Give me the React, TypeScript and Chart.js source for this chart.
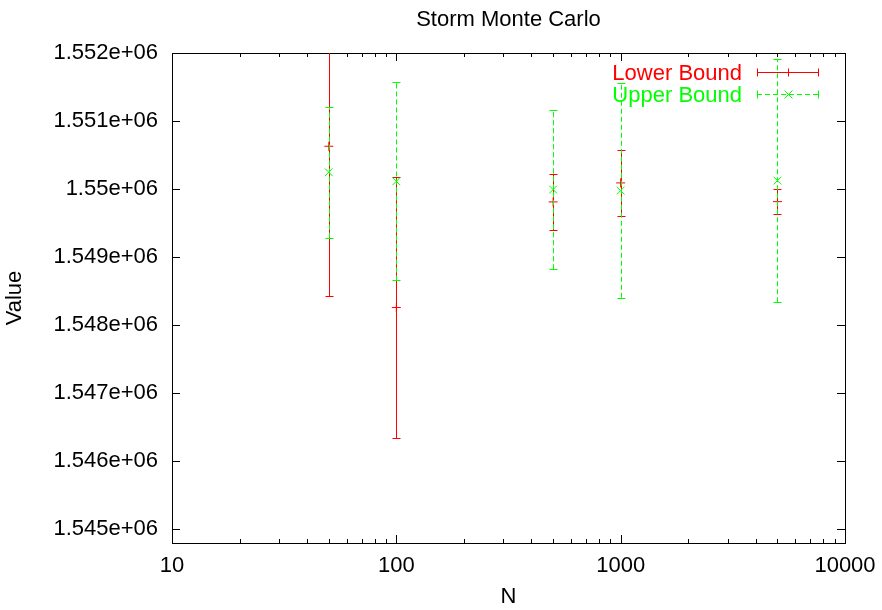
import React, { useEffect, useRef } from 'react';
import { Chart, registerables } from 'chart.js';

Chart.register(...registerables);

// ---- data ----
const N = [50, 100, 500, 1000, 5000];
const lowerValue = [1550630, 1548260, 1549812, 1550091, 1549816];
const lowerError = [2204, 1917, 415, 483, 188];
const upperValue = [1550247, 1550115, 1549993, 1549978, 1550125];
const upperError = [960, 1457, 1170, 1575, 1787];

const xTicks = [10, 100, 1000, 10000];
const xTickLabels = ['10', '100', '1000', '10000'];
const yTicks = [1545000, 1546000, 1547000, 1548000, 1549000, 1550000, 1551000, 1552000];
const yTickLabels = ['1.545e+06', '1.546e+06', '1.547e+06', '1.548e+06', '1.549e+06', '1.55e+06', '1.551e+06', '1.552e+06'];

const TITLE = 'Storm Monte Carlo';
const X_TITLE = 'N';
const Y_TITLE = 'Value';

const X_MIN = 10;
const X_MAX = 10000;
const Y_MIN = 1544800;
const Y_MAX = 1552000;

const RED = '#ff0000';
const GREEN = '#00ff00';
const FONT_FAMILY = '"Liberation Sans", Arial, Helvetica, sans-serif';
const FONT_SIZE = 22;
const FONT = { family: FONT_FAMILY, size: FONT_SIZE, weight: 'normal' as const };

// minor ticks for log axis (2..9 per decade)
const xMinorTicks: number[] = [];
for (let d = X_MIN; d < X_MAX; d *= 10) {
  for (let k = 2; k <= 9; k++) xMinorTicks.push(d * k);
}

const errorBarPlugin = {
  id: 'errorBars',
  beforeDatasetDraw(chart: any, args: any) {
    const ds = chart.data.datasets[args.index];
    const errs: number[] = ds.errors;
    if (!errs) return;
    const { ctx, chartArea, scales } = chart;
    const dash: number[] = ds.errorDash || [];
    ctx.save();
    ctx.beginPath();
    ctx.rect(chartArea.left, chartArea.top, chartArea.right - chartArea.left, chartArea.bottom - chartArea.top);
    ctx.clip();
    ctx.strokeStyle = ds.borderColor;
    ctx.lineWidth = 1;
    ds.data.forEach((p: any, i: number) => {
      const x = Math.round(scales.x.getPixelForValue(p.x)) + 0.5;
      const yHi = scales.y.getPixelForValue(p.y + errs[i]);
      const yLo = scales.y.getPixelForValue(p.y - errs[i]);
      ctx.setLineDash(dash);
      ctx.beginPath();
      ctx.moveTo(x, yLo);
      ctx.lineTo(x, yHi);
      ctx.stroke();
      ctx.setLineDash([]);
      [yLo, yHi].forEach((y) => {
        const yy = Math.round(y) + 0.5;
        ctx.beginPath();
        ctx.moveTo(x - 4, yy);
        ctx.lineTo(x + 4, yy);
        ctx.stroke();
      });
    });
    ctx.restore();
  },
};

const framePlugin = {
  id: 'gnuFrame',
  beforeDatasetsDraw(chart: any) {
    const { ctx, chartArea, scales } = chart;
    const { left, right, top, bottom } = chartArea;
    ctx.save();
    ctx.strokeStyle = '#000';
    ctx.lineWidth = 1;
    ctx.setLineDash([]);
    const line = (x1: number, y1: number, x2: number, y2: number) => {
      ctx.beginPath();
      ctx.moveTo(x1, y1);
      ctx.lineTo(x2, y2);
      ctx.stroke();
    };
    const major = 8;
    const minor = 4;
    xTicks.forEach((v) => {
      const x = Math.round(scales.x.getPixelForValue(v)) + 0.5;
      line(x, bottom, x, bottom - major);
      line(x, top, x, top + major);
    });
    xMinorTicks.forEach((v) => {
      const x = Math.round(scales.x.getPixelForValue(v)) + 0.5;
      line(x, bottom, x, bottom - minor);
      line(x, top, x, top + minor);
    });
    yTicks.forEach((v) => {
      const y = Math.round(scales.y.getPixelForValue(v)) + 0.5;
      line(left, y, left + major, y);
      line(right, y, right - major, y);
    });
    ctx.strokeRect(Math.round(left) + 0.5, Math.round(top) + 0.5, Math.round(right - left), Math.round(bottom - top));
    // title centred over the plot area
    ctx.fillStyle = '#000';
    ctx.font = `${FONT_SIZE}px ${FONT_FAMILY}`;
    ctx.textAlign = 'center';
    ctx.textBaseline = 'middle';
    ctx.fillText(TITLE, (left + right) / 2, 20);
    ctx.restore();
  },
};

const legendPlugin = {
  id: 'gnuLegend',
  afterDraw(chart: any) {
    const { ctx, chartArea } = chart;
    ctx.save();
    ctx.font = `${FONT_SIZE}px ${FONT_FAMILY}`;
    ctx.textAlign = 'right';
    ctx.textBaseline = 'middle';
    ctx.lineWidth = 1;
    chart.data.datasets.forEach((ds: any, i: number) => {
      const y = Math.round(chartArea.top + 19 + i * 22) + 0.5;
      const tx = chartArea.right - 103;
      const x1 = chartArea.right - 88;
      const x2 = chartArea.right - 27;
      const xm = Math.round((x1 + x2) / 2) + 0.5;
      ctx.fillStyle = ds.borderColor;
      ctx.strokeStyle = ds.borderColor;
      ctx.fillText(ds.label, tx, y + 1);
      ctx.setLineDash(ds.errorDash || []);
      ctx.beginPath();
      ctx.moveTo(x1, y);
      ctx.lineTo(x2, y);
      ctx.stroke();
      ctx.setLineDash([]);
      [x1 + 0.5, x2 + 0.5].forEach((x) => {
        ctx.beginPath();
        ctx.moveTo(x, y - 4);
        ctx.lineTo(x, y + 4);
        ctx.stroke();
      });
      ctx.beginPath();
      if (ds.pointStyle === 'cross') {
        ctx.moveTo(xm - 4, y);
        ctx.lineTo(xm + 4, y);
        ctx.moveTo(xm, y - 4);
        ctx.lineTo(xm, y + 4);
      } else {
        ctx.moveTo(xm - 4, y - 4);
        ctx.lineTo(xm + 4, y + 4);
        ctx.moveTo(xm - 4, y + 4);
        ctx.lineTo(xm + 4, y - 4);
      }
      ctx.stroke();
    });
    ctx.restore();
  },
};

export default function App() {
  const canvasRef = useRef<HTMLCanvasElement | null>(null);

  useEffect(() => {
    if (!canvasRef.current) return;
    const chart = new Chart(canvasRef.current, {
      type: 'scatter',
      data: {
        datasets: [
          {
            label: 'Lower Bound',
            data: N.map((x, i) => ({ x, y: lowerValue[i] })),
            borderColor: RED,
            backgroundColor: RED,
            pointStyle: 'cross',
            pointRadius: 4.5,
            pointHoverRadius: 4.5,
            borderWidth: 1,
            order: 1,
            errors: lowerError,
            errorDash: [],
          } as any,
          {
            label: 'Upper Bound',
            data: N.map((x, i) => ({ x, y: upperValue[i] })),
            borderColor: GREEN,
            backgroundColor: GREEN,
            pointStyle: 'crossRot',
            pointRadius: 5.5,
            pointHoverRadius: 5.5,
            borderWidth: 1,
            order: 0,
            errors: upperError,
            errorDash: [5, 3],
          } as any,
        ],
      },
      options: {
        animation: false,
        responsive: false,
        devicePixelRatio: 1,
        layout: { padding: { left: 0, right: 37, top: 53, bottom: 0 } },
        plugins: {
          legend: { display: false },
          tooltip: { enabled: false },
          title: { display: false },
        },
        scales: {
          x: {
            type: 'logarithmic',
            position: 'bottom',
            min: X_MIN,
            max: X_MAX,
            afterBuildTicks: (s: any) => {
              s.ticks = xTicks.map((v) => ({ value: v }));
            },
            afterFit: (s: any) => {
              s.height = 67;
              s.paddingLeft = 0;
              s.paddingRight = 0;
              s.paddingTop = 0;
              s.paddingBottom = 0;
            },
            grid: { display: false, drawTicks: false },
            border: { display: false },
            ticks: {
              autoSkip: false,
              maxRotation: 0,
              padding: 10,
              color: '#000',
              font: FONT,
              callback: (_v: any, i: number) => xTickLabels[i],
            },
            title: {
              display: true,
              text: X_TITLE,
              color: '#000',
              font: FONT,
              padding: { top: 0, bottom: 0 },
            },
          },
          y: {
            type: 'linear',
            position: 'left',
            min: Y_MIN,
            max: Y_MAX,
            afterBuildTicks: (s: any) => {
              s.ticks = yTicks.map((v) => ({ value: v }));
            },
            afterFit: (s: any) => {
              s.width = 172;
              s.paddingLeft = 0;
              s.paddingRight = 0;
              s.paddingTop = 0;
              s.paddingBottom = 0;
            },
            grid: { display: false, drawTicks: false },
            border: { display: false },
            ticks: {
              padding: 14,
              color: '#000',
              font: FONT,
              callback: (_v: any, i: number) => yTickLabels[i],
            },
            title: {
              display: true,
              text: Y_TITLE,
              color: '#000',
              font: FONT,
              padding: { top: 2, bottom: 0 },
            },
          },
        },
      } as any,
      plugins: [framePlugin, errorBarPlugin, legendPlugin],
    });
    return () => chart.destroy();
  }, []);

  return (
    <div style={{ position: 'fixed', left: 0, top: 0, width: 882, height: 610, background: '#fff' }}>
      <canvas ref={canvasRef} width={882} height={610} />
    </div>
  );
}
